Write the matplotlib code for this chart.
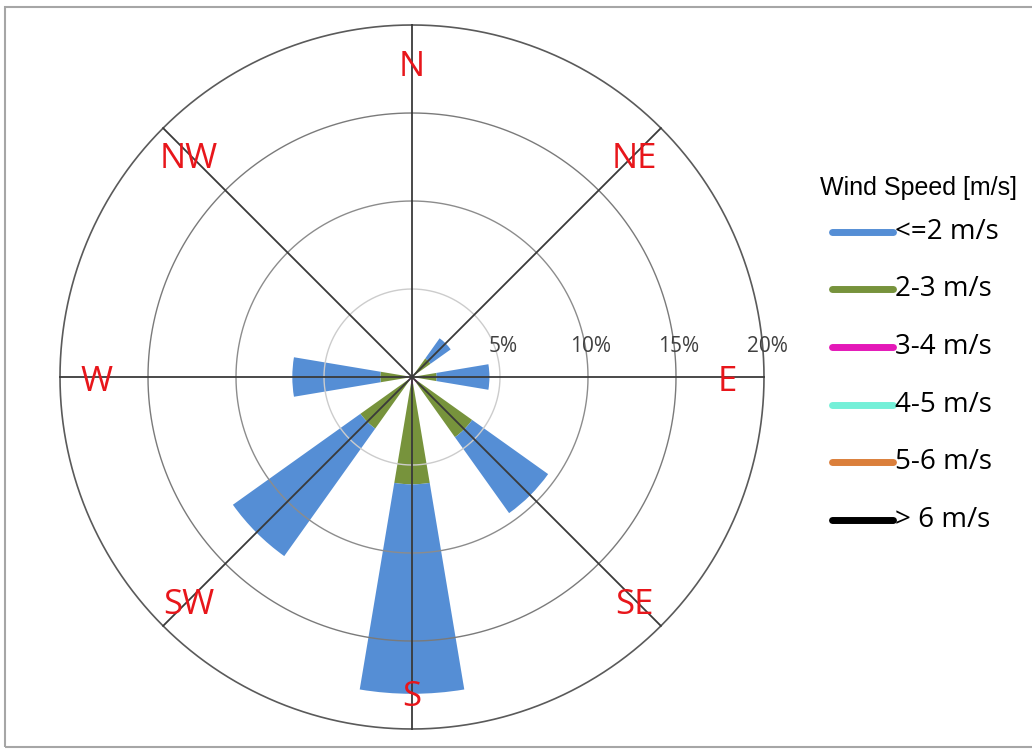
import numpy as np
import matplotlib
matplotlib.use("Agg")
import matplotlib.pyplot as plt
from matplotlib.lines import Line2D
from matplotlib.patches import Rectangle

# Wind rose data: share of time (%) per direction and speed class
directions = ["N", "NE", "E", "SE", "S", "SW", "W", "NW"]
dir_degrees = [0, 45, 90, 135, 180, 225, 270, 315]
speed_labels = ["<=2 m/s", "2-3 m/s", "3-4 m/s", "4-5 m/s", "5-6 m/s", "> 6 m/s"]
speed_colors = ["#558ED5", "#77933C", "#E418B8", "#74F0D8", "#DB7F3B", "#000000"]

freq_le2 = [0.0, 1.4, 3.0, 5.3, 11.9, 8.9, 5.0, 0.0]
freq_2_3 = [0.0, 1.2, 1.3, 3.8, 5.7, 3.3, 1.6, 0.0]
freq_3_4 = [0.0, 0.1, 0.1, 0.4, 0.4, 0.3, 0.2, 0.0]
freq_4_5 = [0.0, 0.0, 0.0, 0.0, 0.0, 0.0, 0.0, 0.0]
freq_5_6 = [0.0, 0.0, 0.0, 0.0, 0.0, 0.0, 0.0, 0.0]
freq_gt6 = [0.0, 0.0, 0.0, 0.0, 0.0, 0.0, 0.0, 0.0]

ring_values = [5, 10, 15, 20]
ring_labels = ["5%", "10%", "15%", "20%"]

series = [freq_le2, freq_2_3, freq_3_4, freq_4_5, freq_5_6, freq_gt6]

W, H = 1032, 751
fig = plt.figure(figsize=(W / 100, H / 100), dpi=100)
fig.patch.set_facecolor("white")

# outer frame
fig.patches.append(Rectangle((5 / W, 4 / H), 1.2, (744 - 4) / H,
                             transform=fig.transFigure, fill=False,
                             edgecolor="#A6A6A6", linewidth=1.5))

cx, cy, R = 412, 377, 352
ax = fig.add_axes([(cx - R) / W, (H - cy - R) / H, 2 * R / W, 2 * R / H],
                  projection="polar")
ax.set_theta_zero_location("N")
ax.set_theta_direction(-1)
ax.set_ylim(0, 20)
ax.grid(False)
ax.set_xticks([])
ax.set_yticks([])
ax.spines["polar"].set_visible(False)
ax.patch.set_alpha(0)

theta = np.deg2rad(dir_degrees)
width = np.deg2rad(19)

# stacked bars: highest speed class nearest the centre
bottom = np.zeros(len(directions))
for vals, col in reversed(list(zip(series, speed_colors))):
    vals = np.asarray(vals)
    ax.bar(theta, vals, width=width, bottom=bottom, color=col,
           edgecolor="none", linewidth=0, zorder=2, align="center")
    bottom = bottom + vals

# rings
tt = np.linspace(0, 2 * np.pi, 721)
ring_styles = {5: ("#CCCCCC", 1.0), 10: ("#8C8C8C", 1.0),
               15: ("#7A7A7A", 1.0), 20: ("#5A5A5A", 1.2)}
for rv in ring_values:
    c, lw = ring_styles[rv]
    ax.plot(tt, np.full_like(tt, rv), color=c, lw=lw, zorder=3, clip_on=False)

# spokes
for t in theta:
    ax.plot([t, t], [0, 20], color="#3A3A3A", lw=1.3, zorder=4, clip_on=False)

# direction labels
for name, t in zip(directions, theta):
    ax.annotate(name, xy=(t, 17.9), xytext=(0, -5), textcoords="offset pixels",
                color="#E8161B", fontsize=25, family="Open Sans",
                ha="center", va="center", zorder=5, annotation_clip=False)

# radial labels along the east axis
for rv, lab in zip(ring_values, ring_labels):
    ax.annotate(lab, xy=(np.pi / 2, rv), xytext=(3, 31),
                textcoords="offset pixels", ha="center", va="center",
                fontsize=15, color="#404040", family="Open Sans",
                annotation_clip=False, zorder=5)

# legend
fig.text(820 / W, 1 - 188 / H, "Wind Speed [m/s]", fontsize=18,
         family="Liberation Sans", color="#000000", ha="left", va="center")
row_y = [232, 289, 347, 405, 462, 520]
for lab, col, yy in zip(speed_labels, speed_colors, row_y):
    yf = 1 - yy / H
    fig.add_artist(Line2D([832 / W, 893 / W], [yf, yf], color=col, lw=5,
                          solid_capstyle="round", transform=fig.transFigure))
    fig.text(895 / W, yf, lab, fontsize=20, family="Open Sans",
             color="#000000", ha="left", va="center")

fig.savefig("out.png", dpi=100)
